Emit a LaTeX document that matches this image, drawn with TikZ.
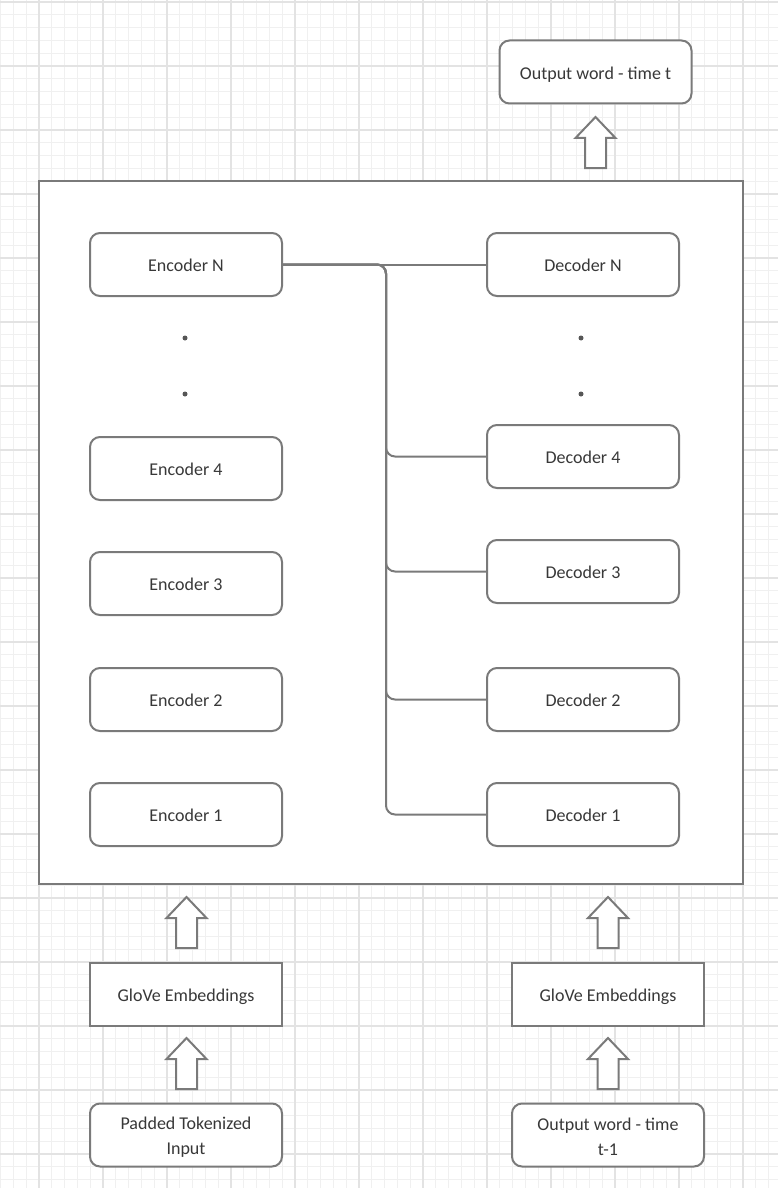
\documentclass[tikz,border=0pt]{standalone}
\usepackage{fontspec}
\setmainfont{Carlito}
\definecolor{strokegray}{HTML}{7A7A7A}
\definecolor{textgray}{HTML}{383838}
\definecolor{gridminor}{HTML}{F0F0F0}
\definecolor{gridmajor}{HTML}{E3E3E3}
\tikzset{
  minorline/.style={draw=gridminor, line width=1pt},
  majorline/.style={draw=gridmajor, line width=1.6pt},
  frame/.style={draw=strokegray, line width=2pt, fill=white, inner sep=0pt},
  rbox/.style={draw=strokegray, line width=2pt, fill=white, rounded corners=10pt,
    minimum width=192pt, minimum height=63pt, inner sep=0pt, text=textgray,
    font=\fontsize{18}{25}\selectfont, align=center,
    text height=14.6pt, text depth=0pt},
  rboxml/.style={rbox, text height=, text depth=},
  sbox/.style={rbox, rounded corners=0pt},
  conn/.style={draw=strokegray, line width=2pt, rounded corners=9pt},
  dotnode/.style={circle, fill=textgray!85, inner sep=0pt, minimum size=5pt},
  blockarrow/.pic={
    \draw[draw=strokegray, line width=2pt, fill=white, line join=miter]
      (0,0) -- (20,21) -- (10.5,21) -- (10.5,51) -- (-10.5,51) -- (-10.5,21) -- (-20,21) -- cycle;
  }
}
\begin{document}
\begin{tikzpicture}[x=1pt,y=-1pt]
\useasboundingbox (0,0) rectangle (778,1188);
\fill[white] (0,0) rectangle (778,1188);
% grid
\foreach \i in {0,...,61} {
  \draw[minorline] ({0.6+12.8*\i},0) -- ({0.6+12.8*\i},1188);
}
\foreach \j in {0,...,93} {
  \draw[minorline] (0,{2+12.8*\j}) -- (778,{2+12.8*\j});
}
\foreach \i in {0,...,12} {
  \draw[majorline] ({39+64*\i},0) -- ({39+64*\i},1188);
}
\foreach \j in {0,...,18} {
  \draw[majorline] (0,{2+64*\j}) -- (778,{2+64*\j});
}
% main frame
\node[frame, minimum width=704pt, minimum height=703pt] (main) at (391,532.5) {};
% encoders
\node[rbox] (encN) at (186,264.5) {Encoder N};
\node[dotnode] (ed1) at (185,338) {};
\node[dotnode] (ed2) at (185,394) {};
\node[rbox] (enc4) at (186,468.5) {Encoder 4};
\node[rbox] (enc3) at (186,583.5) {Encoder 3};
\node[rbox] (enc2) at (186,699.5) {Encoder 2};
\node[rbox] (enc1) at (186,814.5) {Encoder 1};
% decoders
\node[rbox] (decN) at (583,264.5) {Decoder N};
\node[dotnode] (dd1) at (581,338) {};
\node[dotnode] (dd2) at (581,394) {};
\node[rbox] (dec4) at (583,456.5) {Decoder 4};
\node[rbox] (dec3) at (583,571.5) {Decoder 3};
\node[rbox] (dec2) at (583,699.5) {Decoder 2};
\node[rbox] (dec1) at (583,814.5) {Decoder 1};
% connectors
\coordinate (bus) at (386,264.5);
\draw[conn] (encN.east) -- (decN.west);
\foreach \d in {dec4,dec3,dec2,dec1} {
  \draw[conn] (encN.east) -- (bus) |- (\d.west);
}
% top output
\node[rbox] (outt) at (595.5,72) {Output word - time t};
\pic at (595.5,117) {blockarrow};
% bottom left
\pic at (186.5,897) {blockarrow};
\node[sbox] (gloveL) at (186,994) {GloVe Embeddings};
\pic at (186.5,1038) {blockarrow};
\node[rboxml] (input) at (186,1135) {\rule{0pt}{17pt}Padded Tokenized\\Input};
% bottom right
\pic at (608,897) {blockarrow};
\node[sbox] (gloveR) at (608,994) {GloVe Embeddings};
\pic at (608,1038) {blockarrow};
\node[rboxml] (outprev) at (608,1135) {\rule{0pt}{17pt}Output word - time\\t-1};
\end{tikzpicture}
\end{document}
